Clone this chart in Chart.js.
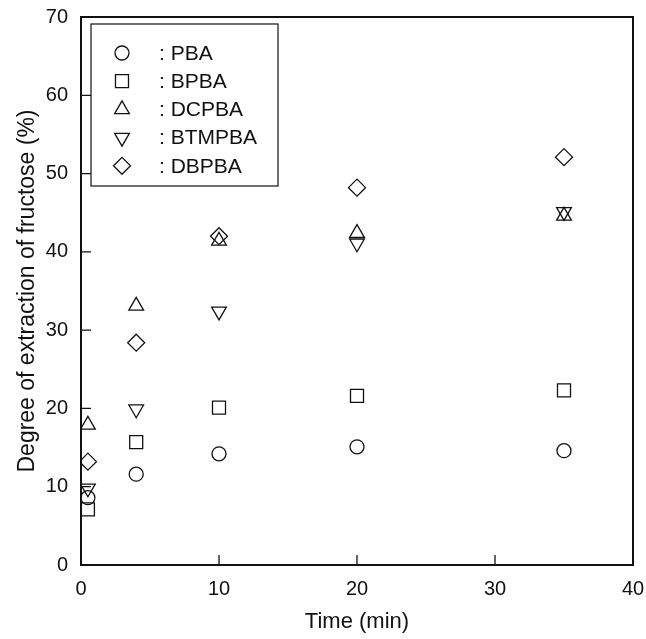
<!DOCTYPE html>
<html>
<head>
<meta charset="utf-8">
<script src="https://cdn.jsdelivr.net/npm/chart.js@4/dist/chart.umd.min.js"></script>
<style>
  html, body { margin: 0; padding: 0; background: #fff; }
  #wrap { width: 646px; height: 639px; }
</style>
</head>
<body>
<div id="wrap"><canvas id="extractionChart" width="646" height="639"></canvas></div>
<script>
// extraction time (min)
const times = [0.5, 4, 10, 20, 35];

// degree of extraction (%) per boronic acid carrier
const pba = [8.6, 11.6, 14.2, 15.1, 14.6];
const bpba = [7.1, 15.7, 20.1, 21.6, 22.3];
const dcpba = [17.9, 33.1, 41.4, 42.4, 44.6];
const btmpba = [9.8, 19.9, 32.4, 41.1, 45.1];
const dbpba = [13.2, 28.4, 42.0, 48.2, 52.1];

const xTicks = [0, 10, 20, 30, 40];
const yTicks = [0, 10, 20, 30, 40, 50, 60, 70];

const FONT = "'Liberation Sans', Arial, Helvetica, sans-serif";
const INK = "#111";

const toPoints = (ys) => times.map((t, i) => ({ x: t, y: ys[i] }));

function series(label, ys, style, radius, rotation) {
  return {
    label,
    data: toPoints(ys),
    pointStyle: style,
    pointRadius: radius,
    pointHoverRadius: radius,
    pointRotation: rotation || 0,
    pointBorderColor: INK,
    pointBackgroundColor: "rgba(255,255,255,0)",
    pointBorderWidth: 1.3,
    showLine: false,
  };
}

// box around the plot + inward tick marks
const framePlugin = {
  id: "frame",
  afterDraw(chart) {
    const { ctx, chartArea: a, scales } = chart;
    ctx.save();
    ctx.strokeStyle = INK;
    ctx.lineWidth = 1.3;
    ctx.beginPath();
    xTicks.forEach((v) => {
      const px = scales.x.getPixelForValue(v);
      ctx.moveTo(px, a.bottom);
      ctx.lineTo(px, a.bottom - 10);
    });
    yTicks.forEach((v) => {
      const py = scales.y.getPixelForValue(v);
      ctx.moveTo(a.left, py);
      ctx.lineTo(a.left + 10, py);
    });
    ctx.stroke();
    ctx.lineWidth = 2;
    ctx.strokeRect(a.left, a.top, a.right - a.left, a.bottom - a.top);
    ctx.restore();
  },
};

// legend box in the upper left of the plot
const legendBoxPlugin = {
  id: "legendBox",
  afterDraw(chart) {
    const { ctx, chartArea: a } = chart;
    const bx = a.left + 10, by = a.top + 7, bw = 187, bh = 162;
    ctx.save();
    ctx.fillStyle = "#fff";
    ctx.fillRect(bx, by, bw, bh);
    ctx.strokeStyle = INK;
    ctx.lineWidth = 1.2;
    ctx.strokeRect(bx, by, bw, bh);
    ctx.font = "21px " + FONT;
    ctx.fillStyle = INK;
    ctx.textBaseline = "middle";
    chart.data.datasets.forEach((ds, i) => {
      const cy = by + 29 + i * 28.2;
      ctx.lineWidth = ds.pointBorderWidth;
      ctx.strokeStyle = ds.pointBorderColor;
      ctx.fillStyle = "rgba(255,255,255,0)";
      Chart.helpers.drawPoint(ctx, {
        pointStyle: ds.pointStyle,
        radius: ds.pointRadius,
        rotation: ds.pointRotation,
        borderWidth: ds.pointBorderWidth,
      }, bx + 31, cy);
      ctx.fillStyle = INK;
      ctx.fillText(": " + ds.label, bx + 68, cy + 1);
    });
    ctx.restore();
  },
};

new Chart(document.getElementById("extractionChart"), {
  type: "scatter",
  data: {
    datasets: [
      series("PBA", pba, "circle", 7),
      series("BPBA", bpba, "rect", 9.2),
      series("DCPBA", dcpba, "triangle", 8.5),
      series("BTMPBA", btmpba, "triangle", 8.5, 180),
      series("DBPBA", dbpba, "rectRot", 8.5),
    ],
  },
  options: {
    responsive: false,
    animation: false,
    devicePixelRatio: 1,
    layout: { padding: { top: 17, right: 13, left: 0, bottom: 0 } },
    plugins: { legend: { display: false }, tooltip: { enabled: false } },
    scales: {
      x: {
        type: "linear",
        min: 0,
        max: 40,
        afterBuildTicks: (s) => { s.ticks = xTicks.map((v) => ({ value: v })); },
        afterFit: (s) => {
          s.height = 74;
          s.paddingLeft = 0;
          s.paddingRight = 0;
        },
        grid: { display: false, drawTicks: false },
        border: { display: false },
        ticks: { color: INK, padding: 12, font: { family: FONT, size: 20 } },
        title: {
          display: true,
          text: "Time (min)",
          color: INK,
          padding: { top: 0, bottom: 4 },
          font: { family: FONT, size: 22 },
        },
      },
      y: {
        type: "linear",
        min: 0,
        max: 70,
        afterBuildTicks: (s) => { s.ticks = yTicks.map((v) => ({ value: v })); },
        afterFit: (s) => {
          s.width = 81;
          s.paddingTop = 0;
          s.paddingBottom = 0;
        },
        grid: { display: false, drawTicks: false },
        border: { display: false },
        ticks: { color: INK, padding: 13, font: { family: FONT, size: 20 } },
        title: {
          display: true,
          text: "Degree of extraction of fructose (%)",
          color: INK,
          padding: { top: 14, bottom: 0 },
          font: { family: FONT, size: 23 },
        },
      },
    },
  },
  plugins: [framePlugin, legendBoxPlugin],
});
</script>
</body>
</html>
